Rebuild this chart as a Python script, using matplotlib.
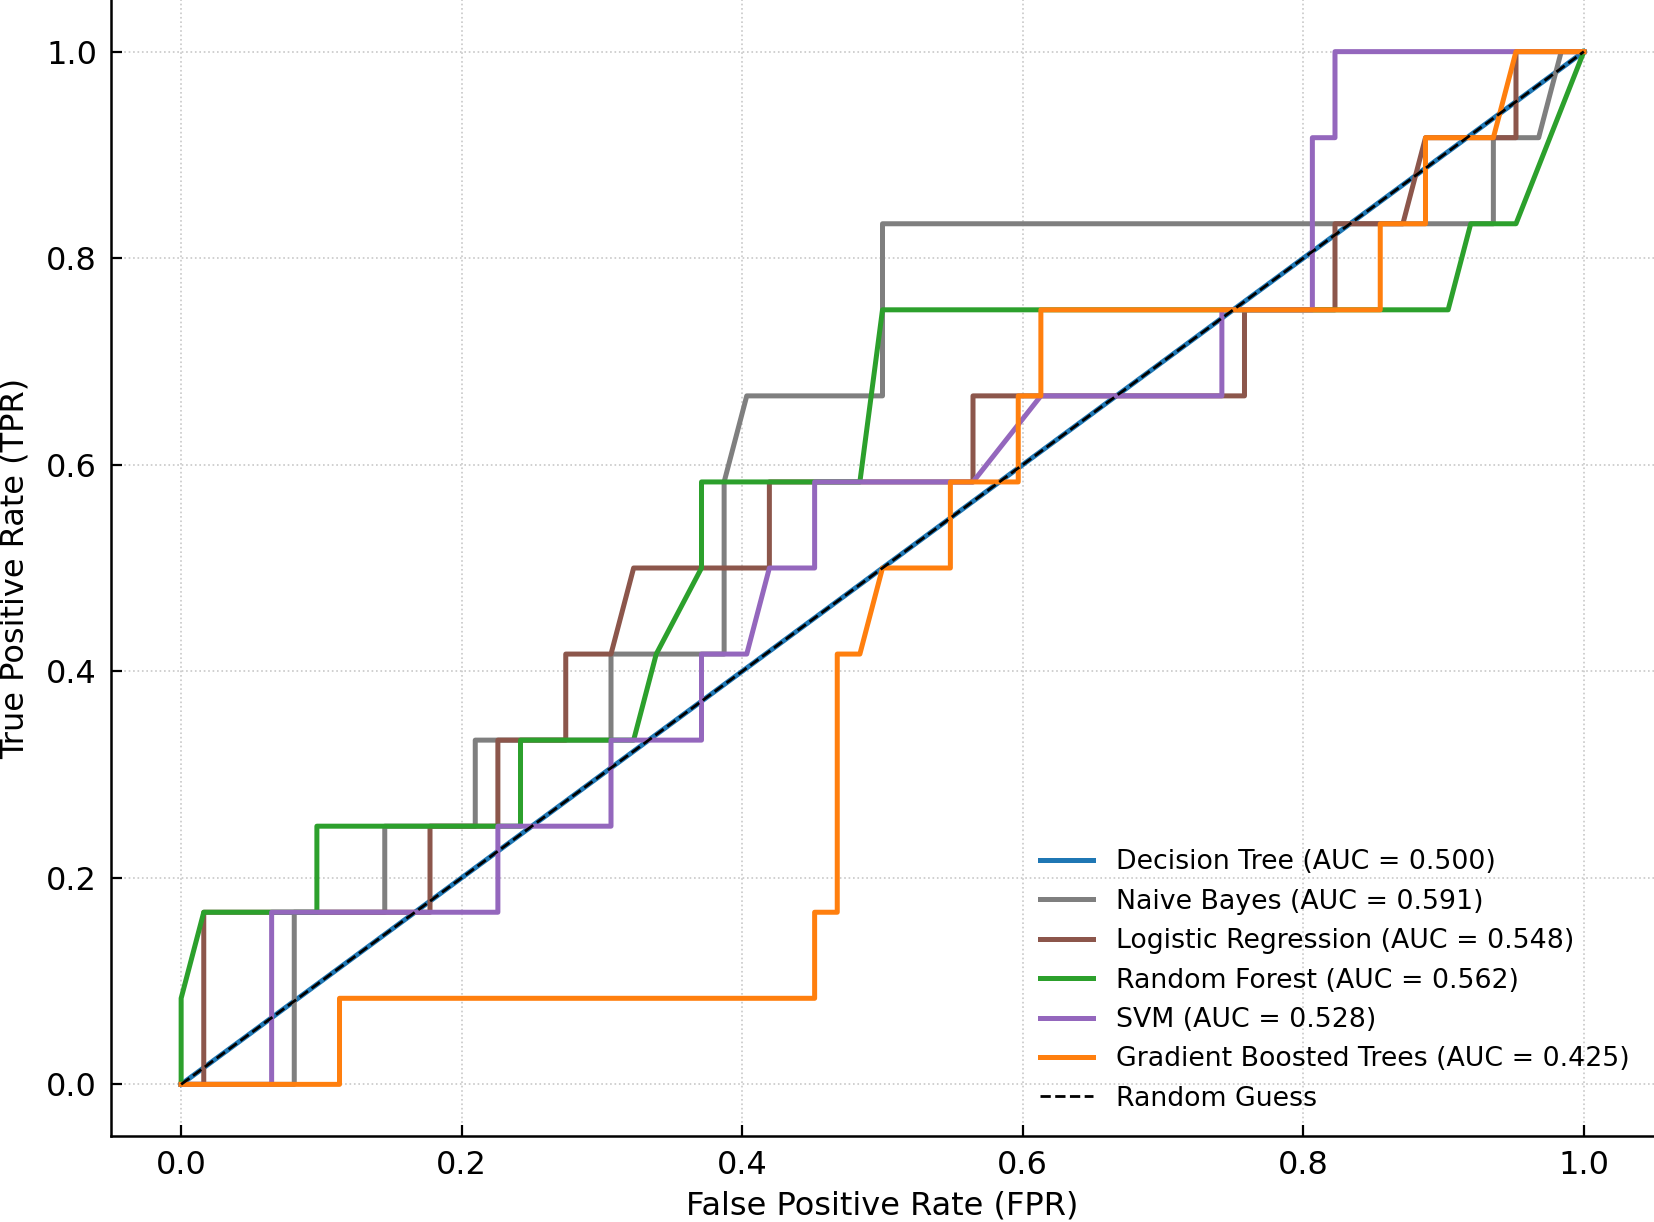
import matplotlib.pyplot as plt
import numpy as np

# ROC points: 62 negatives (FPR), 12 positives (TPR)
n_neg = 62
n_pos = 12

dt_fp = [0, 62]
dt_tp = [0, 12]

nb_fp = [0, 5, 5, 9, 9, 13, 13, 19, 19, 24, 24, 25, 31, 31, 58, 58, 60, 61, 62]
nb_tp = [0, 0, 2, 2, 3, 3, 4, 4, 5, 5, 7, 8, 8, 10, 10, 11, 11, 12, 12]

lr_fp = [0, 1, 1, 11, 11, 14, 14, 17, 17, 19, 20, 26, 26, 35, 35, 47, 47, 51, 51, 54, 55, 59, 59, 62]
lr_tp = [0, 0, 2, 2, 3, 3, 4, 4, 5, 5, 6, 6, 7, 7, 8, 8, 9, 9, 10, 10, 11, 11, 12, 12]

rf_fp = [0, 0, 1, 6, 6, 15, 15, 20, 21, 23, 23, 30, 31, 56, 57, 59, 62]
rf_tp = [0, 1, 2, 2, 3, 3, 4, 4, 5, 6, 7, 7, 9, 9, 10, 10, 12]

svm_fp = [0, 4, 4, 14, 14, 19, 19, 23, 23, 25, 26, 28, 28, 35, 38, 46, 46, 50, 50, 51, 51, 62]
svm_tp = [0, 0, 2, 2, 3, 3, 4, 4, 5, 5, 6, 6, 7, 7, 8, 8, 9, 9, 11, 11, 12, 12]

gbt_fp = [0, 7, 7, 28, 28, 29, 29, 30, 31, 34, 34, 37, 37, 38, 38, 53, 53, 55, 55, 58, 59, 62]
gbt_tp = [0, 0, 1, 1, 2, 2, 5, 5, 6, 6, 7, 7, 8, 8, 9, 9, 10, 10, 11, 11, 12, 12]

names = ['Decision Tree', 'Naive Bayes', 'Logistic Regression',
         'Random Forest', 'SVM', 'Gradient Boosted Trees']
aucs = [0.500, 0.591, 0.548, 0.562, 0.528, 0.425]
colors = ['tab:blue', 'tab:gray', 'tab:brown', 'tab:green', 'tab:purple', 'tab:orange']
curves = [(dt_fp, dt_tp), (nb_fp, nb_tp), (lr_fp, lr_tp),
          (rf_fp, rf_tp), (svm_fp, svm_tp), (gbt_fp, gbt_tp)]

fig = plt.figure(figsize=(16.54, 12.22), dpi=100)
ax = fig.add_axes([111 / 1654, 86 / 1222, 1 - 111 / 1654, 1 - 86 / 1222])

for (fp, tp), name, auc, c in zip(curves, names, aucs, colors):
    fpr = np.array(fp) / n_neg
    tpr = np.array(tp) / n_pos
    ax.plot(fpr, tpr, color=c, lw=3.6, label=f'{name} (AUC = {auc:.3f})')

ax.plot([0, 1], [0, 1], 'k--', lw=2, label='Random Guess')

ax.set_xlim(-0.05, 1.05)
ax.set_ylim(-0.05, 1.05)
ax.set_xticks(np.arange(0, 1.01, 0.2))
ax.set_yticks(np.arange(0, 1.01, 0.2))
ax.tick_params(direction='in', length=8, width=1.6, labelsize=23, pad=10)
ax.set_xlabel('False Positive Rate (FPR)', fontsize=23, labelpad=7)
ax.set_ylabel('True Positive Rate (TPR)', fontsize=23, labelpad=11)
ax.grid(True, linestyle=':', color='#c8c8c8', linewidth=1.2)
for s in ['top', 'right']:
    ax.spines[s].set_visible(False)
for s in ['left', 'bottom']:
    ax.spines[s].set_linewidth(1.8)

ax.legend(loc='lower right', fontsize=19.3, frameon=False, labelspacing=0.5,
          handlelength=2.0, handletextpad=0.85)

fig.savefig('out.png', dpi=100)
